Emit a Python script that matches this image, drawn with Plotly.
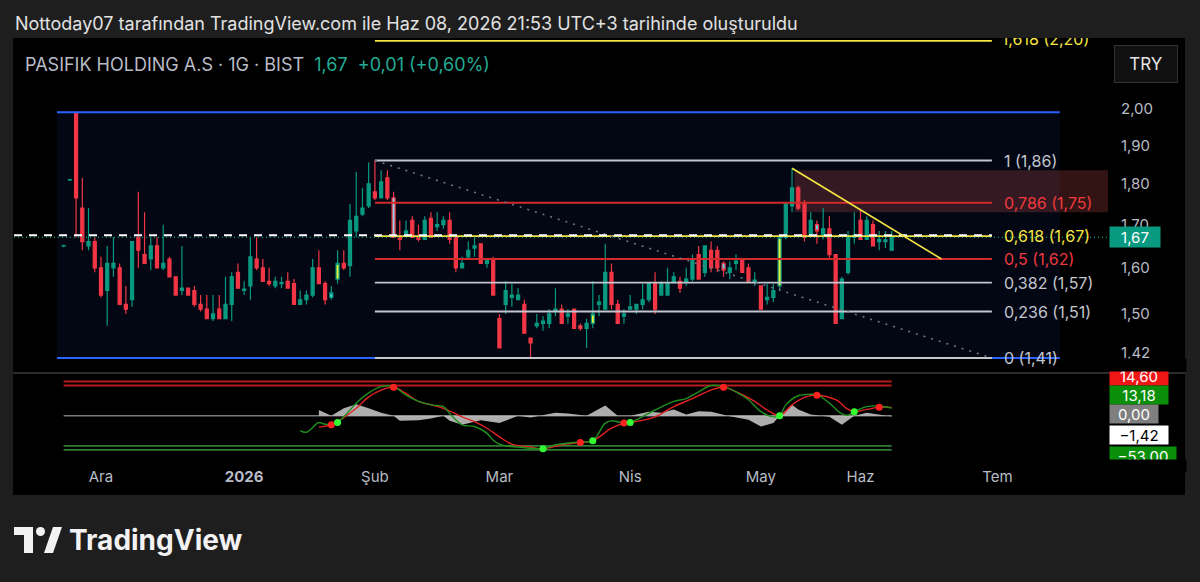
import math
import pandas as pd
import plotly.graph_objects as go

# ---------------- data ----------------
OPEN = [1.65, 1.81, 1.99, 1.74, 1.65, 1.66, 1.60, 1.55, 1.60, 1.60,
        1.52, 1.53, 1.67, 1.63, 1.62, 1.65, 1.60, 1.62, 1.58, 1.55,
        1.555, 1.55, 1.52, 1.51, 1.49, 1.51, 1.49, 1.52, 1.59, 1.55,
        1.56, 1.62, 1.60, 1.57, 1.56, 1.565, 1.57, 1.565, 1.52, 1.53,
        1.54, 1.60, 1.565, 1.535, 1.575, 1.61, 1.605, 1.685, 1.725, 1.745,
        1.78, 1.765, 1.815, 1.765, 1.67, 1.675, 1.71, 1.67, 1.665, 1.715,
        1.695, 1.70, 1.71, 1.67, 1.60, 1.625, 1.645, 1.655, 1.61, 1.62,
        1.49, 1.52, 1.535, 1.53, 1.52, 1.45, 1.475, 1.48, 1.48, 1.505,
        1.51, 1.495, 1.51, 1.475, 1.47, 1.48, 1.52, 1.51, 1.59, 1.52,
        1.495, 1.51, 1.51, 1.52, 1.53, 1.565, 1.54, 1.54, 1.57, 1.57,
        1.57, 1.575, 1.63, 1.59, 1.64, 1.64, 1.61, 1.59, 1.61, 1.62,
        1.60, 1.57, 1.56, 1.53, 1.535, 1.56, 1.67, 1.745, 1.79, 1.75,
        1.675, 1.70, 1.675, 1.69, 1.63, 1.49, 1.59, 1.67, 1.71, 1.665,
        1.70, 1.66, 1.66, 1.64]
HIGH = [1.653, 1.813, 1.99, 1.815, 1.74, 1.67, 1.625, 1.65, 1.67, 1.61,
        1.56, 1.66, 1.78, 1.73, 1.67, 1.67, 1.70, 1.625, 1.58, 1.65,
        1.555, 1.56, 1.54, 1.54, 1.54, 1.54, 1.58, 1.59, 1.61, 1.57,
        1.67, 1.67, 1.62, 1.60, 1.58, 1.58, 1.59, 1.575, 1.55, 1.55,
        1.62, 1.64, 1.57, 1.56, 1.64, 1.64, 1.75, 1.83, 1.79, 1.855,
        1.86, 1.835, 1.835, 1.78, 1.71, 1.71, 1.72, 1.70, 1.72, 1.73,
        1.73, 1.72, 1.73, 1.67, 1.625, 1.66, 1.67, 1.655, 1.62, 1.625,
        1.50, 1.57, 1.565, 1.555, 1.53, 1.45, 1.50, 1.495, 1.51, 1.555,
        1.52, 1.51, 1.51, 1.48, 1.49, 1.57, 1.54, 1.655, 1.61, 1.53,
        1.51, 1.54, 1.52, 1.565, 1.565, 1.59, 1.57, 1.60, 1.59, 1.58,
        1.60, 1.63, 1.65, 1.65, 1.66, 1.65, 1.615, 1.615, 1.63, 1.62,
        1.61, 1.59, 1.56, 1.565, 1.565, 1.675, 1.755, 1.84, 1.795, 1.76,
        1.73, 1.71, 1.74, 1.72, 1.63, 1.58, 1.685, 1.73, 1.735, 1.72,
        1.71, 1.685, 1.685, 1.685]
LOW = [1.647, 1.807, 1.67, 1.64, 1.64, 1.59, 1.535, 1.475, 1.58, 1.52,
       1.50, 1.515, 1.60, 1.61, 1.595, 1.60, 1.595, 1.58, 1.54, 1.54,
       1.54, 1.515, 1.505, 1.49, 1.485, 1.49, 1.49, 1.485, 1.555, 1.54,
       1.53, 1.595, 1.57, 1.56, 1.555, 1.555, 1.555, 1.52, 1.52, 1.52,
       1.535, 1.565, 1.52, 1.53, 1.565, 1.595, 1.58, 1.67, 1.72, 1.74,
       1.76, 1.765, 1.76, 1.67, 1.64, 1.67, 1.67, 1.66, 1.665, 1.67,
       1.685, 1.69, 1.655, 1.59, 1.60, 1.62, 1.625, 1.61, 1.60, 1.54,
       1.43, 1.50, 1.515, 1.53, 1.46, 1.41, 1.47, 1.465, 1.47, 1.495,
       1.48, 1.48, 1.47, 1.465, 1.43, 1.47, 1.495, 1.51, 1.51, 1.48,
       1.48, 1.51, 1.50, 1.51, 1.525, 1.50, 1.54, 1.54, 1.565, 1.545,
       1.56, 1.57, 1.575, 1.58, 1.59, 1.59, 1.58, 1.575, 1.595, 1.59,
       1.57, 1.56, 1.51, 1.52, 1.525, 1.55, 1.665, 1.73, 1.735, 1.66,
       1.675, 1.655, 1.665, 1.62, 1.48, 1.49, 1.585, 1.655, 1.665, 1.665,
       1.65, 1.64, 1.645, 1.64]
CLOSE = [1.651, 1.811, 1.765, 1.66, 1.66, 1.60, 1.54, 1.61, 1.61, 1.52,
         1.51, 1.66, 1.64, 1.61, 1.65, 1.60, 1.61, 1.58, 1.54, 1.555,
         1.54, 1.52, 1.51, 1.49, 1.50, 1.49, 1.52, 1.58, 1.555, 1.553,
         1.625, 1.60, 1.57, 1.565, 1.57, 1.567, 1.555, 1.52, 1.53, 1.54,
         1.60, 1.565, 1.53, 1.545, 1.61, 1.60, 1.71, 1.72, 1.74, 1.80,
         1.765, 1.805, 1.765, 1.67, 1.665, 1.685, 1.67, 1.665, 1.71, 1.67,
         1.70, 1.71, 1.665, 1.60, 1.61, 1.64, 1.65, 1.61, 1.62, 1.54,
         1.43, 1.55, 1.54, 1.54, 1.46, 1.44, 1.48, 1.485, 1.50, 1.51,
         1.48, 1.50, 1.47, 1.47, 1.48, 1.50, 1.525, 1.59, 1.52, 1.48,
         1.50, 1.515, 1.52, 1.53, 1.565, 1.51, 1.565, 1.565, 1.58, 1.555,
         1.575, 1.62, 1.575, 1.65, 1.60, 1.60, 1.595, 1.60, 1.615, 1.59,
         1.57, 1.573, 1.51, 1.535, 1.55, 1.67, 1.75, 1.79, 1.74, 1.67,
         1.71, 1.685, 1.69, 1.63, 1.48, 1.575, 1.67, 1.675, 1.665, 1.71,
         1.65, 1.665, 1.664, 1.67]

YELLOW_BARS = [44, 77, 85, 115]
CYAN_BARS = [43, 83, 106, 121, 131]
LIGHTBLUE_BARS = [53]

# WaveTrend oscillator (sparse readings: bar index -> value)
WT1_IDX = [38, 39, 41, 42, 44, 45, 47, 49, 51, 53, 55, 57, 59, 61, 62, 64, 66, 68, 69, 70, 71,
           73, 77, 79, 83, 85, 87, 88, 90, 91, 95, 98, 100, 102, 104, 106, 108, 110, 112, 114,
           115, 116, 118, 120, 121, 123, 125, 126, 127, 129, 131, 133]
WT1_VAL = [-26, -29, -12, -15, -12, -2, 22, 40, 51, 51, 36, 25, 19, 16, 4, -16, -19, -31, -43, -50, -53,
           -55, -58, -51, -46, -44, -13, -9, -13, -12, 10, 25, 30, 42, 53, 51, 42, 28, 7, -2,
           0, 19, 35, 37.5, 37, 22, 3, 1, 7, 16, 17, 13.18]
WT2_IDX = [41, 43, 44, 47, 49, 51, 53, 55, 57, 59, 61, 64, 66, 68, 70, 72, 75, 77, 80, 83, 85, 88,
           90, 91, 95, 98, 101, 104, 106, 108, 111, 113, 115, 117, 119, 121, 124, 126, 127, 129, 131, 133]
WT2_VAL = [-20, -16, -10.5, 13, 33, 45, 50, 39, 25, 19, 13, -2, -10.5, -22, -37, -50, -55, -58, -51, -47, -44, -22,
           -13, -12, -2, 16, 30, 45, 50, 42, 25, 10, 0, 19, 32, 36, 28, 11, 7, 11, 15, 14.60]
HIST_IDX = [41, 43, 45, 47, 49, 51, 53, 54, 57, 59, 61, 62, 64, 66, 67, 70, 73, 75, 79, 81, 84, 87,
            89, 91, 94, 96, 98, 100, 102, 104, 107, 110, 112, 114, 115, 117, 118, 120, 123, 125, 126,
            127, 129, 131, 133]
HIST_VAL = [10, 0, 13, 20, 13, 5, 0, -9, -8, -5, 0, -9, -16, -10, -8, -13, 0, -3, 5, 4, 0, 18,
            0, 0, 7, 5, 11, 2, 8, 7, -1, -7, -19, -13, 0, 19, 11, 2, -2, -16, -8,
            0, 5, 2, -1.42]
RED_DOT_IDX = [43, 53, 83, 90, 106, 121, 131]
RED_DOT_VAL = [-16, 50, -47, -13, 50, 36, 15]
GREEN_DOT_IDX = [44, 77, 85, 91, 115, 127]
GREEN_DOT_VAL = [-12, -58, -44, -12, 0, 7]
WT_OB_LEVELS = [60, 53]
WT_OS_LEVELS = [-53, -60]
WT_LABEL_TEXT = ["14,60", "13,18", "0,00", "\u22121,42", "\u221253,00"]

# price axis / fibonacci / drawings
PRICE_TICKS = [1.42, 1.50, 1.60, 1.70, 1.80, 1.90, 2.00]
PRICE_TICK_TEXT = ["1,42", "1,50", "1,60", "1,70", "1,80", "1,90", "2,00"]
LAST_PRICE = 1.67
LAST_PRICE_TEXT = "1,67"
FIB_PRICES = [2.20, 1.86, 1.753, 1.673, 1.62, 1.567, 1.505, 1.41]
FIB_TEXT = ["1,618 (2,20)", "1 (1,86)", "0,786 (1,75)", "0,618 (1,67)", "0,5 (1,62)",
            "0,382 (1,57)", "0,236 (1,51)", "0 (1,41)"]
FIB_KIND = ["y", "g", "r", "y", "r", "g", "g", "g"]
FIB_X = [50, 149.1]               # bar index of the fib anchors
RANGE_BOX_X = [-1.06, 160]
RANGE_BOX_P = [1.41, 1.99]
ZONE_X = [117.4, 170]
ZONE_P = [1.73, 1.835]
TREND_X = [117, 141]
TREND_P = [1.84, 1.62]
HLINE_PRICE = 1.675

HOLIDAYS = ["2026-01-01", "2026-03-20", "2026-04-23", "2026-05-01", "2026-05-19",
            "2026-05-27", "2026-05-28", "2026-05-29"]
MONTH_TEXT = {12: "Ara", 1: "<b>2026</b>", 2: "Şub", 3: "Mar", 4: "Nis", 5: "May", 6: "Haz", 7: "Tem"}

TITLE = "Nottoday07 tarafından TradingView.com ile Haz 08, 2026 21:53 UTC+3 tarihinde oluşturuldu"
SYMBOL = "PASIFIK HOLDING A.S · 1G · BIST"
QUOTE = "1,67\u00a0\u00a0+0,01 (+0,60%)"

# ---------------- layout geometry ----------------
W, H = 1200, 582
PL, PR, PT, PB = 14, 1108, 38, 458
SEP = 373
X_RANGE = [-7.97, 167.75]
Y_RANGE = [0.14008, 0.34413]
Y2_RANGE = [-74.2, 74.9]
FONT = "Inter, Roboto, sans-serif"

UP, DOWN = "#089981", "#f23645"
TXT = "#b8bcc6"


def fx(p):
    return (p - PL) / (PR - PL)


def fy(p):
    return (PB - p) / (PB - PT)


cal = [d for d in pd.bdate_range("2025-11-21", "2026-07-31") if d.strftime("%Y-%m-%d") not in HOLIDAYS]
n = len(OPEN)
xs = list(range(n))
tickvals, ticktext = [], []
for k in range(1, len(cal)):
    if cal[k].month != cal[k - 1].month and cal[k].month in MONTH_TEXT:
        tickvals.append(k)
        ticktext.append(MONTH_TEXT[cal[k].month])

fig = go.Figure()


def line(x, y, color, width=1.5, dash=None, yaxis="y", shape="linear"):
    fig.add_trace(go.Scatter(x=x, y=y, mode="lines", yaxis=yaxis, xaxis="x", hoverinfo="skip",
                             showlegend=False, line=dict(color=color, width=width, dash=dash, shape=shape)))


# range box borders
line(RANGE_BOX_X, [RANGE_BOX_P[1]] * 2, "#2962ff", 2)
line(RANGE_BOX_X, [RANGE_BOX_P[0]] * 2, "#2962ff", 2)

# fib lines
fib_col = {"y": "#f5e642", "g": "#c3c6ce", "r": "#d22b2b"}
fib_txt_col = {"y": "#f5e642", "g": "#c3c6ce", "r": "#f0393d"}
for p, k in zip(FIB_PRICES, FIB_KIND):
    line(FIB_X, [p, p], fib_col[k], 1.8)
# fib trend (dotted diagonal)
line(FIB_X, [FIB_PRICES[1], FIB_PRICES[-1]], "#6f7380", 1.6, "2px,6px")
# teal last price line + white dashed horizontal line
line(X_RANGE, [LAST_PRICE, LAST_PRICE], UP, 1.2, "1px,3px")
line([X_RANGE[0], FIB_X[1]], [HLINE_PRICE, HLINE_PRICE], "#ffffff", 2, "8px,7px")


def candles(members, inc_fill, dec_fill):
    sel = set(members)
    pick = lambda arr: [arr[i] if i in sel else None for i in xs]
    fig.add_trace(go.Candlestick(
        x=xs, open=pick(OPEN), high=pick(HIGH), low=pick(LOW), close=pick(CLOSE),
        xaxis="x", yaxis="y", whiskerwidth=0, showlegend=False, hoverinfo="skip",
        increasing=dict(line=dict(color=UP, width=1.2), fillcolor=inc_fill),
        decreasing=dict(line=dict(color=DOWN, width=1.2), fillcolor=dec_fill)))


special = set(YELLOW_BARS) | set(CYAN_BARS) | set(LIGHTBLUE_BARS)
candles([i for i in xs if i not in special], UP, DOWN)
candles(YELLOW_BARS, "#eef23a", "#eef23a")
candles(CYAN_BARS, "#5ad8e6", "#5ad8e6")
candles(LIGHTBLUE_BARS, "#8fcfe8", "#8fcfe8")

# yellow trend line
line(TREND_X, TREND_P, "#f5e642", 1.6)

# clipped 1.618 label (text trace so that it is clipped by the pane)
fig.add_trace(go.Scatter(x=[FIB_X[1] + 1.6], y=[FIB_PRICES[0]], mode="text", text=[FIB_TEXT[0]],
                         textposition="middle right", cliponaxis=True, hoverinfo="skip", showlegend=False,
                         textfont=dict(family=FONT, size=16, color=fib_txt_col["y"]), xaxis="x", yaxis="y"))

# ---------------- WaveTrend pane ----------------
for v in WT_OB_LEVELS:
    line([xs[0], xs[-1]], [v, v], "#b71c1c", 1.8, yaxis="y2")
for v in WT_OS_LEVELS:
    line([xs[0], xs[-1]], [v, v], "#2e7d32", 1.8, yaxis="y2")
line([xs[0], xs[-1]], [0, 0], "#7a7a7a", 1.6, yaxis="y2")
fig.add_trace(go.Scatter(x=HIST_IDX, y=HIST_VAL, mode="lines", fill="tozeroy", yaxis="y2", xaxis="x",
                         fillcolor="rgba(205,205,205,0.85)", line=dict(width=0, color="rgba(0,0,0,0)"),
                         hoverinfo="skip", showlegend=False))
line(WT2_IDX, WT2_VAL, "#e32222", 1.4, yaxis="y2", shape="spline")
line(WT1_IDX, WT1_VAL, "#1f8f1f", 1.4, yaxis="y2", shape="spline")
fig.add_trace(go.Scatter(x=RED_DOT_IDX, y=RED_DOT_VAL, mode="markers", yaxis="y2", xaxis="x",
                         marker=dict(color="#ff2020", size=7), hoverinfo="skip", showlegend=False))
fig.add_trace(go.Scatter(x=GREEN_DOT_IDX, y=GREEN_DOT_VAL, mode="markers", yaxis="y2", xaxis="x",
                         marker=dict(color="#33ff33", size=7), hoverinfo="skip", showlegend=False))

# ---------------- shapes ----------------
shapes = [
    dict(type="rect", xref="paper", yref="paper", x0=fx(13), x1=fx(1185), y0=fy(495), y1=fy(PT),
         fillcolor="#000000", line=dict(width=0), layer="below"),
    dict(type="rect", xref="x", yref="y", x0=RANGE_BOX_X[0], x1=RANGE_BOX_X[1],
         y0=RANGE_BOX_P[0], y1=RANGE_BOX_P[1], fillcolor="rgba(41,98,255,0.075)", line=dict(width=0), layer="below"),
    dict(type="rect", xref="x", yref="y", x0=ZONE_X[0], x1=ZONE_X[1], y0=ZONE_P[0], y1=ZONE_P[1],
         fillcolor="rgba(200,80,80,0.25)", line=dict(width=0), layer="below"),
    dict(type="line", xref="paper", yref="paper", x0=fx(13), x1=fx(1185), y0=fy(SEP), y1=fy(SEP),
         line=dict(color="#2c2c2c", width=2), layer="above"),
    # TradingView logo mark
    dict(type="rect", xref="paper", yref="paper", x0=fx(14), x1=fx(33), y0=fy(535), y1=fy(527),
         fillcolor="#f2f2f2", line=dict(width=0)),
    dict(type="rect", xref="paper", yref="paper", x0=fx(24), x1=fx(33), y0=fy(553), y1=fy(527),
         fillcolor="#f2f2f2", line=dict(width=0)),
    dict(type="circle", xref="paper", yref="paper", x0=fx(36), x1=fx(45), y0=fy(536), y1=fy(527),
         fillcolor="#f2f2f2", line=dict(width=0)),
    dict(type="path", xref="paper", yref="paper",
         path=f"M {fx(44)},{fy(553)} L {fx(53)},{fy(527)} L {fx(62)},{fy(527)} L {fx(53)},{fy(553)} Z",
         fillcolor="#f2f2f2", line=dict(width=0)),
]

# ---------------- annotations ----------------
ann = [
    dict(text=TITLE, x=fx(13), y=fy(24), xanchor="left", yanchor="middle",
         font=dict(family=FONT, size=18, color="#e2e2e2")),
    dict(text=f"{SYMBOL}\u00a0\u00a0<span style='color:#22ab94'>{QUOTE}</span>", x=fx(23), y=fy(64),
         xanchor="left", yanchor="middle", font=dict(family=FONT, size=18, color=TXT)),
    dict(text="TRY", x=fx(1146), y=fy(64), xanchor="center", yanchor="middle", width=50, height=24,
         bgcolor="#111111", bordercolor="#333333", borderwidth=1, borderpad=6,
         font=dict(family=FONT, size=17, color="#e6e6e6")),
    dict(text="<b>TradingView</b>", x=fx(67), y=fy(540), xanchor="left", yanchor="middle",
         font=dict(family=FONT, size=28, color="#f2f2f2")),
]
for p, t, k in zip(FIB_PRICES[1:], FIB_TEXT[1:], FIB_KIND[1:]):
    ann.append(dict(text=t, xref="x", yref="y", x=FIB_X[1] + 1.6, y=math.log10(p),
                    xanchor="left", yanchor="middle", font=dict(family=FONT, size=16, color=fib_txt_col[k])))
ann.append(dict(text=LAST_PRICE_TEXT, x=fx(1109), xref="paper", yref="y", y=math.log10(LAST_PRICE),
                xanchor="left", yanchor="middle", bgcolor=UP, width=48, height=18, borderpad=1,
                font=dict(family=FONT, size=15, color="#ffffff")))
wt_label_y = [376, 395, 414, 435, 456]
wt_label_bg = ["#f01616", "#0a8f0a", "#7f7f7f", "#ffffff", "#0a8f0a"]
wt_label_fg = ["#ffffff", "#ffffff", "#ffffff", "#000000", "#ffffff"]
wt_label_w = [58, 58, 48, 58, 66]
for t, yy, bg, fg, ww in zip(WT_LABEL_TEXT, wt_label_y, wt_label_bg, wt_label_fg, wt_label_w):
    ann.append(dict(text=t, x=fx(1109), y=fy(yy), xanchor="left", yanchor="middle", bgcolor=bg,
                    width=ww, height=18, borderpad=0, font=dict(family=FONT, size=15, color=fg)))
# covers that clip the stacked labels at the pane edges
ann.append(dict(text=" ", x=fx(1104), y=fy(372), xanchor="left", yanchor="bottom", width=81, height=12,
                bgcolor="#000000", borderpad=0))
ann.append(dict(text=" ", x=fx(1104), y=fy(459), xanchor="left", yanchor="top", width=81, height=12,
                bgcolor="#000000", borderpad=0))
for a in ann:
    a.setdefault("xref", "paper")
    a.setdefault("yref", "paper")
    a["showarrow"] = False

sep_frac = (PB - SEP) / (PB - PT)
fig.update_layout(
    width=W, height=H, margin=dict(l=PL, r=W - PR, t=PT, b=H - PB),
    paper_bgcolor="#1e1e1e", plot_bgcolor="#000000", showlegend=False,
    font=dict(family=FONT),
    xaxis=dict(range=X_RANGE, anchor="y2", showgrid=False, zeroline=False, showline=False, ticks="",
               tickmode="array", tickvals=tickvals, ticktext=ticktext, ticklabelstandoff=8,
               tickfont=dict(family=FONT, size=15, color=TXT), rangeslider=dict(visible=False),
               fixedrange=True),
    yaxis=dict(type="log", range=Y_RANGE, domain=[sep_frac, 1], anchor="x", side="right",
               showgrid=False, zeroline=False, showline=False, ticks="", tickmode="array",
               tickvals=PRICE_TICKS, ticktext=PRICE_TICK_TEXT, ticklabelstandoff=12,
               tickfont=dict(family=FONT, size=15, color=TXT)),
    yaxis2=dict(range=Y2_RANGE, domain=[0, sep_frac], anchor="x", showgrid=False, zeroline=False,
                showline=False, showticklabels=False, ticks=""),
    shapes=shapes, annotations=ann,
)

fig.write_html("out.html", config={"displayModeBar": False},
               post_script="document.body.style.margin='0';document.body.style.background='#1e1e1e';")
